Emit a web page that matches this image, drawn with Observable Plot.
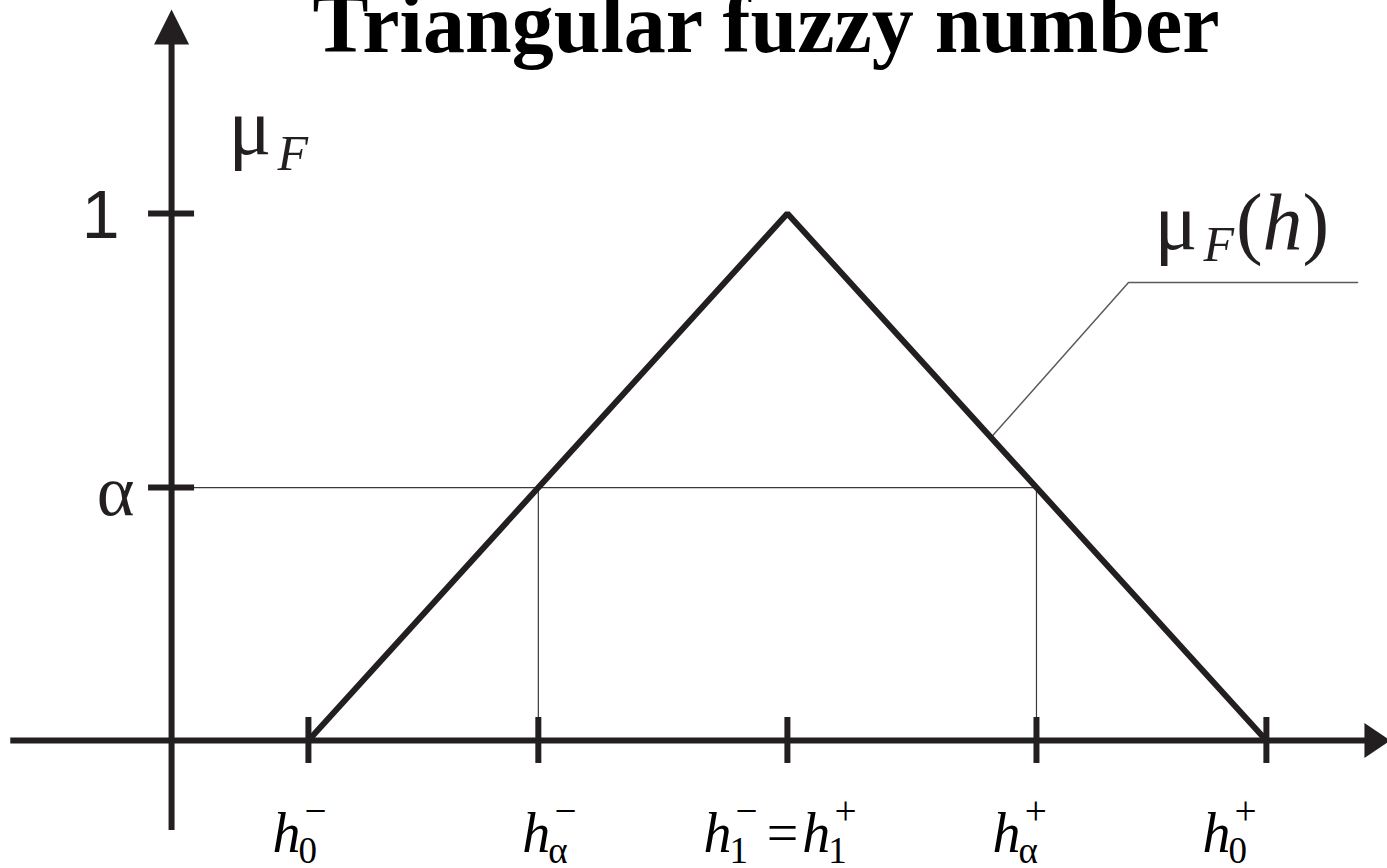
<!DOCTYPE html>
<html>
<head>
<meta charset="utf-8">
<script src="https://cdn.jsdelivr.net/npm/d3@7"></script>
<script src="https://cdn.jsdelivr.net/npm/@observablehq/plot@0.6"></script>
<style>
  html, body { margin: 0; padding: 0; background: #fff; overflow: hidden; }
  #chart svg { display: block; }
</style>
</head>
<body>
<div id="chart"></div>
<script>
// Triangular membership function μF(h): support [h0−, h0+], peak at h1− = h1+
const breakpoints = [8, 36, 64];        // h0−, h1, h0+
const membership = [0, 1, 0];           // μF at each breakpoint
const alpha = 0.48;                     // α-cut level
const alphaCut = [21.44, 50.56];        // hα−, hα+

const xTicks = [breakpoints[0], alphaCut[0], breakpoints[1], alphaCut[1], breakpoints[2]];
const xTickLabels = ["h0−", "hα−", "h1− = h1+", "hα+", "h0+"];
const yTicks = [1, alpha];
const yTickLabels = ["1", "α"];
const title = "Triangular fuzzy number";
const axisLabel = "μF";
const curveLabel = "μF(h)";

// callout from the descending edge to the curve label
const leader = [
  {x: 47.9, y: 0.575},
  {x: 55.94, y: 0.869},
  {x: 69.33, y: 0.869}
];

// ---- layout ----
const xDomain = [-10, 71.08];
const yDomain = [-0.2429, 1.4042];
const axisXExtent = [-9.4, 70];
const axisYExtent = [-0.171, 1.35];
const arrowTipX = 71.25;
const arrowTipY = 1.387;
const tickHalfY = 0.0436;
const tickHalfX = 1.345;
const xLabelShift = [-36, -16, -84, -44, -64];

const ink = "#231f20";
const serif = "'Liberation Serif', 'Times New Roman', serif";
const sans = "'Liberation Sans', Arial, sans-serif";

const triangle = breakpoints.map((h, i) => ({h, mu: membership[i]}));

// filled arrowheads, tip at the symbol origin
const arrowUp = {draw(ctx) { ctx.moveTo(0, 0); ctx.lineTo(17.5, 35); ctx.lineTo(-17.5, 35); ctx.closePath(); }};
const arrowRight = {draw(ctx) { ctx.moveTo(0, 0); ctx.lineTo(-26, 17.5); ctx.lineTo(-26, -17.5); ctx.closePath(); }};

const xLabelMarks = xTicks.map((v, i) => Plot.text([v], {
  x: d => d, y: () => 0, text: () => xTickLabels[i],
  textAnchor: "start", lineAnchor: "bottom", dx: xLabelShift[i], dy: 112,
  fontFamily: serif, fontSize: 56, fill: "#000"
}));

const svg = Plot.plot({
  width: 1387,
  height: 868,
  margin: 0,
  x: {domain: xDomain, axis: null},
  y: {domain: yDomain, axis: null},
  marks: [
    // α-cut guides
    Plot.ruleY([alpha], {x1: 0, x2: alphaCut[1], stroke: "#3a3a3a", strokeWidth: 1.2}),
    Plot.ruleX(alphaCut, {y1: 0, y2: alpha, stroke: "#3a3a3a", strokeWidth: 1.2}),
    // callout
    Plot.line(leader, {x: "x", y: "y", stroke: "#5a5a5a", strokeWidth: 1.5}),
    // axes with arrowheads
    Plot.ruleY([0], {x1: axisXExtent[0], x2: axisXExtent[1], stroke: ink, strokeWidth: 6}),
    Plot.ruleX([0], {y1: axisYExtent[0], y2: axisYExtent[1], stroke: ink, strokeWidth: 6}),
    Plot.dot([{x: arrowTipX, y: 0}], {x: "x", y: "y", symbol: arrowRight, r: 10, fill: ink, stroke: "none"}),
    Plot.dot([{x: 0, y: arrowTipY}], {x: "x", y: "y", symbol: arrowUp, r: 10, fill: ink, stroke: "none"}),
    // tick marks
    Plot.ruleX(xTicks, {y1: -tickHalfY, y2: tickHalfY, stroke: ink, strokeWidth: 6}),
    Plot.ruleY(yTicks, {x1: -tickHalfX, x2: tickHalfX, stroke: ink, strokeWidth: 6}),
    // membership function
    Plot.line(triangle, {x: "h", y: "mu", stroke: ink, strokeWidth: 6, strokeLinejoin: "miter", strokeLinecap: "butt"}),
    // labels
    Plot.text([title], {
      frameAnchor: "top", textAnchor: "middle", lineAnchor: "bottom", dx: 72, dy: 51,
      fontFamily: serif, fontWeight: "bold", fontSize: 84, fill: "#000"
    }),
    Plot.text([yTicks[0]], {
      x: () => 0, y: d => d, text: () => yTickLabels[0],
      textAnchor: "end", lineAnchor: "bottom", dx: -52, dy: 24,
      fontFamily: sans, fontSize: 68, fill: ink
    }),
    Plot.text([yTicks[1]], {
      x: () => 0, y: d => d, text: () => yTickLabels[1],
      textAnchor: "end", lineAnchor: "bottom", dx: -37, dy: 27,
      fontFamily: serif, fontSize: 72, fill: ink
    }),
    Plot.text([1], {
      x: () => 0, y: d => d, text: () => axisLabel,
      textAnchor: "start", lineAnchor: "bottom", dx: 57, dy: -60,
      fontFamily: serif, fontSize: 80, fill: ink
    }),
    Plot.text([leader[1]], {
      x: "x", y: "y", text: () => curveLabel,
      textAnchor: "start", lineAnchor: "bottom", dx: 26, dy: -34,
      fontFamily: serif, fontSize: 80, fill: ink
    }),
    ...xLabelMarks
  ]
});

document.getElementById("chart").append(svg);

// Typeset the math labels: size and rise are fractions of the label's font size;
// a "stack" segment is set above the preceding subscript.
const sub = t => ({t, size: 0.66, rise: 0.185, dx: -2});
const sup = t => ({t, size: 0.7, rise: -0.5, stack: true});
const hIt = {t: "h", italic: true};
const rich = {
  "h0−": [hIt, sub("0"), sup("−")],
  "hα−": [hIt, sub("α"), sup("−")],
  "h1− = h1+": [hIt, sub("1"), sup("−"), {t: "=", dx: 9}, {t: "h", italic: true, dx: 4}, sub("1"), sup("+")],
  "hα+": [hIt, sub("α"), sup("+")],
  "h0+": [hIt, sub("0"), sup("+")],
  "μF": [{t: "μ"}, {t: "F", italic: true, size: 0.625, rise: 0.21, dx: 6}],
  "μF(h)": [{t: "μ"}, {t: "F", italic: true, size: 0.625, rise: 0.15, dx: 6}, {t: "(", dx: 2}, hIt, {t: ")"}]
};

const NS = "http://www.w3.org/2000/svg";
svg.querySelectorAll("text").forEach(el => {
  const segs = rich[el.textContent];
  if (!segs) return;
  const base = parseFloat(getComputedStyle(el).fontSize);
  el.textContent = "";
  let shift = 0, prev = null;
  for (const s of segs) {
    const ts = document.createElementNS(NS, "tspan");
    ts.textContent = s.t;
    if (s.italic) ts.setAttribute("font-style", "italic");
    if (s.size) ts.setAttribute("font-size", (base * s.size).toFixed(1));
    const target = base * (s.rise || 0);
    const dy = target - shift;
    if (Math.abs(dy) > 0.01) ts.setAttribute("dy", dy.toFixed(1));
    shift = target;
    el.appendChild(ts);
    let dx = s.dx || 0;
    if (s.stack && prev) dx += -prev.getComputedTextLength() + base * 0.11;
    if (dx) ts.setAttribute("dx", dx.toFixed(1));
    prev = ts;
  }
});
</script>
</body>
</html>
